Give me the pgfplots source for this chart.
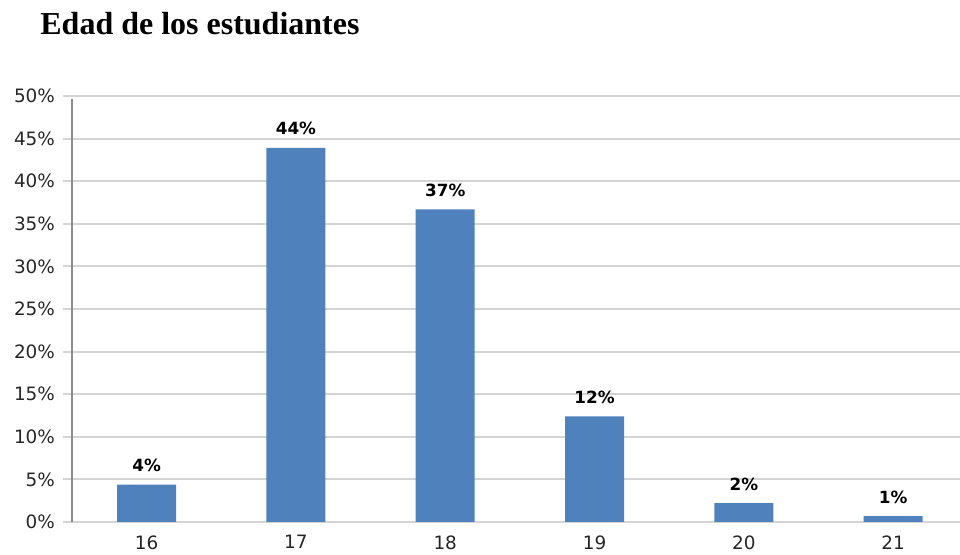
\documentclass[border=0pt]{standalone}
\usepackage{pgfplots}
\pgfplotsset{compat=1.18}
\usepackage{fontspec}
\setmainfont{DejaVu Sans}
\newfontfamily\titlefont{Liberation Serif}
\definecolor{barblue}{HTML}{4F81BD}
\definecolor{gridgray}{HTML}{D4D4D4}
\definecolor{axisgray}{HTML}{8C8C8C}
\begin{document}
\begin{tikzpicture}
\useasboundingbox (-36pt,-16.5pt) rectangle (444pt,261pt);
\node[anchor=base west, inner sep=0pt, font=\titlefont\bfseries\fontsize{16}{19}\selectfont] at (-16pt,243.5pt) {Edad de los estudiantes};
\begin{axis}[
  at={(0,0)}, anchor=south west,
  scale only axis,
  width=444pt, height=213pt,
  xmin=-0.5, xmax=5.448,
  ymin=0, ymax=50,
  ybar, bar width=29.5pt,
  axis line style={draw=none},
  xtick={0,1,2,3,4,5},
  xticklabels={16,17,18,19,20,21},
  ytick={0,5,10,15,20,25,30,35,40,45,50},
  yticklabels={0\%,5\%,10\%,15\%,20\%,25\%,30\%,35\%,40\%,45\%,50\%},
  x tick style={draw=none},
  y tick style={draw=gridgray, line width=1pt},
  tick align=outside,
  major tick length=4.5pt,
  ymajorgrids,
  grid style={draw=gridgray, line width=1pt},
  tick label style={font=\fontsize{9.2}{11}\selectfont, text=black!85},
  yticklabel style={xshift=-0.5pt},
  xticklabel style={inner sep=0.5pt, yshift=-1.5pt},
  /pgf/number format/assume math mode=true,
  nodes near coords={\pgfmathprintnumber[fixed,precision=0]{\pgfplotspointmeta}\%},
  every node near coord/.append style={anchor=base, yshift=6.5pt, font=\bfseries\fontsize{8.4}{10}\selectfont, text=black},
  clip=false,
]
\addplot[fill=barblue, draw=none] coordinates {(0,4.4) (1,43.9) (2,36.7) (3,12.4) (4,2.2) (5,0.7)};
\draw[axisgray, line width=0.6pt] (axis cs:-0.5,0) -- (axis cs:-0.5,49.6);
\end{axis}
\end{tikzpicture}
\end{document}
